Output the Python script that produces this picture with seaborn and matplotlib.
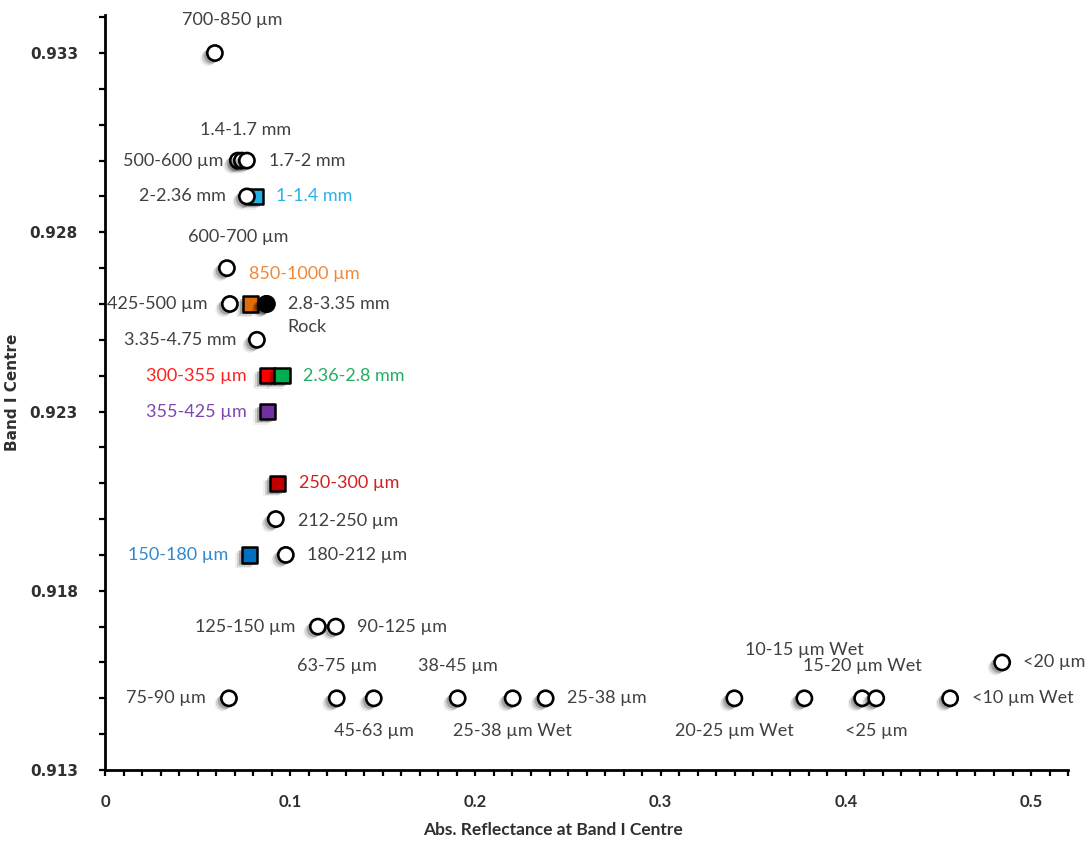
import matplotlib
matplotlib.use("Agg")
import matplotlib.pyplot as plt
import matplotlib.patheffects as pe
from matplotlib.ticker import MultipleLocator, FixedLocator
import seaborn as sns
import pandas as pd

# ---------------- data ----------------
labels = [
    "700-850 µm", "500-600 µm", "1.4-1.7 mm", "1.7-2 mm", "2-2.36 mm",
    "600-700 µm", "425-500 µm", "2.8-3.35 mm", "Rock", "3.35-4.75 mm",
    "212-250 µm", "180-212 µm", "125-150 µm", "90-125 µm", "<20 µm",
    "75-90 µm", "63-75 µm", "45-63 µm", "38-45 µm", "25-38 µm Wet",
    "25-38 µm", "20-25 µm Wet", "10-15 µm Wet", "15-20 µm Wet", "<25 µm",
    "<10 µm Wet",
]
reflectance = [
    0.0593, 0.0717, 0.0739, 0.0766, 0.0766,
    0.0658, 0.0674, 0.0870, 0.0874, 0.0820,
    0.0922, 0.0976, 0.1149, 0.1246, 0.4844,
    0.0669, 0.1251, 0.1451, 0.1904, 0.2201,
    0.2379, 0.3398, 0.3776, 0.4088, 0.4164,
    0.4563,
]
band_centre = [
    0.9330, 0.9300, 0.9300, 0.9300, 0.9290,
    0.9270, 0.9260, 0.9260, 0.9260, 0.9250,
    0.9200, 0.9190, 0.9170, 0.9170, 0.9160,
    0.9150, 0.9150, 0.9150, 0.9150, 0.9150,
    0.9150, 0.9150, 0.9150, 0.9150, 0.9150,
    0.9150,
]
# filled (coloured square) samples
sq_labels = ["1-1.4 mm", "850-1000 µm", "300-355 µm", "2.36-2.8 mm",
             "355-425 µm", "250-300 µm", "150-180 µm"]
sq_reflectance = [0.0814, 0.0787, 0.0879, 0.0955, 0.0879, 0.0933, 0.0782]
sq_band_centre = [0.9290, 0.9260, 0.9240, 0.9240, 0.9230, 0.9210, 0.9190]

x_ticks = [0, 0.1, 0.2, 0.3, 0.4, 0.5]
y_ticks = [0.913, 0.918, 0.923, 0.928, 0.933]

# ---------------- styles ----------------
sq_colors = ["#1FB1E6", "#E36C0A", "#FF0000", "#00B050", "#7030A0", "#C00000", "#0070C0"]
sq_text_colors = ["#29B2E8", "#F0883A", "#FF2020", "#22B060", "#7F45B0", "#D02020", "#3088D0"]
text_gray = "#404040"

# label offsets (pixels) and alignment
circ_off = {
    "700-850 µm": (17, 33, "center"), "500-600 µm": (-14, 0, "right"),
    "1.4-1.7 mm": (4, 31, "center"), "1.7-2 mm": (22, 0, "left"),
    "2-2.36 mm": (-21, 0, "right"), "600-700 µm": (11, 31, "center"),
    "425-500 µm": (-22, 0, "right"), "2.8-3.35 mm": (22, 0, "left"),
    "Rock": (20, -23, "left"), "3.35-4.75 mm": (-21, 0, "right"),
    "212-250 µm": (22, -2, "left"), "180-212 µm": (21, 0, "left"),
    "125-150 µm": (-22, 0, "right"), "90-125 µm": (21, 0, "left"),
    "<20 µm": (21, 0, "left"), "75-90 µm": (-23, 0, "right"),
    "63-75 µm": (0, 32, "center"), "45-63 µm": (0, -33, "center"),
    "38-45 µm": (0, 32, "center"), "25-38 µm Wet": (0, -33, "center"),
    "25-38 µm": (21, 0, "left"), "20-25 µm Wet": (0, -33, "center"),
    "10-15 µm Wet": (0, 48, "center"), "15-20 µm Wet": (0, 32, "center"),
    "<25 µm": (0, -33, "center"), "<10 µm Wet": (22, 0, "left"),
}
sq_off = {
    "1-1.4 mm": (20, 0, "left"), "850-1000 µm": (-2, 30, "left"),
    "300-355 µm": (-21, 0, "right"), "2.36-2.8 mm": (21, 0, "left"),
    "355-425 µm": (-21, 0, "right"), "250-300 µm": (21, 0, "left"),
    "150-180 µm": (-22, 0, "right"),
}

sns.set_style("ticks")
plt.rcParams["font.family"] = ["Lato", "DejaVu Sans"]

fig = plt.figure(figsize=(10.92, 8.41), dpi=100)
ax = fig.add_axes([0.0962, 0.0844, 0.8819, 0.8977])

circ_df = pd.DataFrame({"label": labels, "x": reflectance, "y": band_centre})
sq_df = pd.DataFrame({"label": sq_labels, "x": sq_reflectance, "y": sq_band_centre})

shadow = [
    pe.SimplePatchShadow(offset=(-5, -4), shadow_rgbFace="#000000", alpha=0.06),
    pe.SimplePatchShadow(offset=(-4, -3), shadow_rgbFace="#000000", alpha=0.12),
    pe.SimplePatchShadow(offset=(-2.5, -2), shadow_rgbFace="#000000", alpha=0.22),
    pe.Normal(),
]
msize = 120

# squares first (drawn beneath circles)
for i, row in sq_df.iterrows():
    sns.scatterplot(x=[row.x], y=[row.y], marker="s", s=msize, color=sq_colors[i],
                    edgecolor="black", linewidth=1.8, ax=ax, zorder=3,
                    path_effects=shadow)

face = ["black" if l == "Rock" else "white" for l in labels]
for i, row in circ_df.iterrows():
    sns.scatterplot(x=[row.x], y=[row.y], marker="o", s=msize, color=face[i],
                    edgecolor="black", linewidth=1.9, ax=ax, zorder=4,
                    path_effects=shadow)

fs = 13
for i, row in circ_df.iterrows():
    dx, dy, ha = circ_off[row.label]
    ax.annotate(row.label, (row.x, row.y), xytext=(dx, dy), textcoords="offset pixels",
                ha=ha, va="center", fontsize=fs, color=text_gray, zorder=5)
for i, row in sq_df.iterrows():
    dx, dy, ha = sq_off[row.label]
    ax.annotate(row.label, (row.x, row.y), xytext=(dx, dy), textcoords="offset pixels",
                ha=ha, va="center", fontsize=fs, color=sq_text_colors[i], zorder=5)

ax.set_xlim(0, 0.52)
ax.set_ylim(0.913, 0.93406)
ax.xaxis.set_major_locator(FixedLocator(x_ticks))
ax.xaxis.set_minor_locator(MultipleLocator(0.01))
ax.yaxis.set_major_locator(FixedLocator(y_ticks))
ax.yaxis.set_minor_locator(MultipleLocator(0.001))
ax.set_xticklabels(["0" if t == 0 else f"{t:g}" for t in x_ticks],
                   fontsize=12, fontweight="bold", color="#303030")
ax.set_yticklabels([f"{t:.3f}" for t in y_ticks], fontsize=11, fontweight="bold",
                   color="#303030", family="DejaVu Sans")
ax.tick_params(axis="both", which="both", direction="out", length=4.5, width=1.6, color="black")
ax.tick_params(axis="y", which="major", pad=15)
ax.tick_params(axis="x", which="major", pad=13)

sns.despine(ax=ax)
for sp in ["left", "bottom"]:
    ax.spines[sp].set_linewidth(2)
    ax.spines[sp].set_color("black")

ax.set_xlabel("Abs. Reflectance at Band I Centre", fontsize=12.5, fontweight="bold",
              color="#303030", va="center")
ax.xaxis.set_label_coords(0.465, -0.08)
ax.set_ylabel("Band I Centre", fontsize=11, fontweight="bold", color="#303030",
              family="DejaVu Sans")
ax.yaxis.set_label_coords(-0.088, 0.5)

fig.savefig("out.png", dpi=100)
